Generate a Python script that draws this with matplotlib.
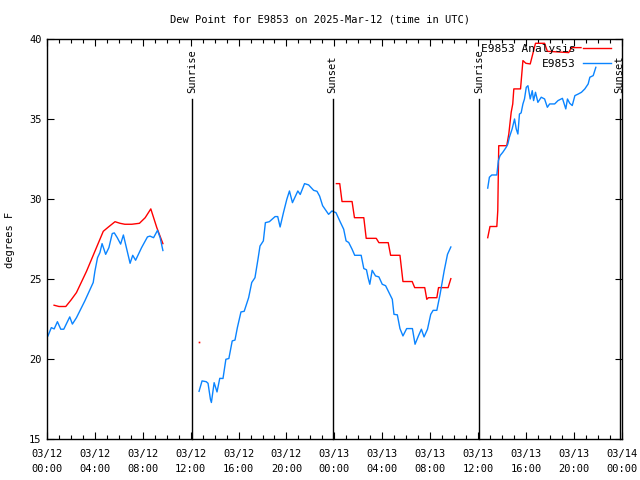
import numpy as np
import matplotlib
matplotlib.use("Agg")
import matplotlib.pyplot as plt
import matplotlib.transforms as mtransforms

title = "Dew Point for E9853 on 2025-Mar-12 (time in UTC)"
ylabel = "degrees F"

# hours since 2025-03-12 00:00 UTC
red_seg1_h = [0.59, 1.0, 1.57, 2.0, 2.46, 3.3, 4.14, 4.7, 5.1, 5.68, 6.1, 6.5, 7.08, 7.72, 8.2, 8.67, 9.17, 9.68]
red_seg1_v = [23.38, 23.3, 23.3, 23.7, 24.17, 25.5, 27.0, 28.0, 28.25, 28.6, 28.5, 28.44, 28.44, 28.5, 28.85, 29.4, 28.23, 27.23]

red_dot_h = [12.7]
red_dot_v = [21.1]

red_seg3_h = [24.17, 24.45, 24.64, 25.48, 25.68, 26.46, 26.66, 27.5, 27.72, 28.5, 28.7, 29.48, 29.73, 30.5,
              30.71, 31.55, 31.72, 31.86, 32.56, 32.7, 33.5, 33.73]
red_seg3_v = [30.98, 30.98, 29.86, 29.86, 28.85, 28.85, 27.56, 27.56, 27.29, 27.29, 26.5, 26.5, 24.86, 24.86,
              24.48, 24.48, 23.75, 23.85, 23.85, 24.48, 24.48, 25.04]

red_seg4_h = [36.81, 37.0, 37.57, 37.65, 37.73, 38.4, 38.57, 38.77, 38.9, 38.99, 39.55, 39.75, 40.0, 40.36,
              40.8, 41.56, 41.79, 43.57, 43.8, 44.6]
red_seg4_v = [27.6, 28.3, 28.3, 29.3, 33.35, 33.35, 34.08, 35.44, 35.96, 36.9, 36.9, 38.67, 38.5, 38.46,
              39.75, 39.75, 39.25, 39.17, 39.48, 39.48]

blue_seg1_h = [0.08, 0.36, 0.6, 0.87, 1.15, 1.4, 1.9, 2.12, 2.46, 3.16, 3.86, 4.0, 4.22, 4.42, 4.6, 4.9, 5.17,
               5.45, 5.62, 5.87, 6.15, 6.38, 6.66, 6.94, 7.16, 7.4, 7.9, 8.39, 8.6, 8.9, 9.23, 9.45, 9.68]
blue_seg1_v = [21.46, 21.98, 21.9, 22.35, 21.88, 21.88, 22.65, 22.2, 22.6, 23.65, 24.8, 25.5, 26.35, 26.67,
               27.23, 26.56, 26.98, 27.86, 27.9, 27.6, 27.2, 27.77, 26.88, 26.0, 26.5, 26.19, 26.98, 27.65,
               27.7, 27.6, 28.06, 27.6, 26.8]

blue_seg2_h = [12.7, 12.95, 13.3, 13.45, 13.65, 13.73, 13.96, 14.2, 14.43, 14.7, 14.94, 15.19, 15.47, 15.7,
               15.9, 16.2, 16.47, 16.84, 17.1, 17.37, 17.62, 17.79, 18.07, 18.24, 18.57, 19.05, 19.27, 19.47,
               19.75, 20.03, 20.25, 20.5, 20.95, 21.15, 21.51, 21.85, 22.27, 22.55, 22.77, 23.02, 23.52, 23.8,
               24.14, 24.45, 24.78, 24.98, 25.2, 25.48, 25.7, 26.24, 26.46, 26.68, 26.82, 26.96, 27.16, 27.44,
               27.72, 28.0, 28.28, 28.56, 28.84, 28.98, 29.26, 29.48, 29.73, 30.04, 30.52, 30.74, 31.02, 31.27,
               31.49, 31.78, 32.05, 32.25, 32.56, 32.83, 33.17, 33.45, 33.73]
blue_seg2_v = [18.0, 18.65, 18.6, 18.5, 17.5, 17.3, 18.54, 17.96, 18.81, 18.8, 20.0, 20.05, 21.15, 21.2,
               21.98, 22.96, 23.0, 23.85, 24.8, 25.1, 26.25, 27.08, 27.4, 28.54, 28.6, 28.92, 28.92, 28.27,
               29.17, 30.0, 30.52, 29.79, 30.52, 30.3, 30.98, 30.9, 30.56, 30.5, 30.2, 29.6, 29.06, 29.27,
               29.16, 28.65, 28.13, 27.4, 27.3, 26.88, 26.5, 26.5, 25.67, 25.6, 25.1, 24.69, 25.56, 25.21,
               25.15, 24.69, 24.6, 24.17, 23.75, 22.81, 22.78, 21.92, 21.46, 21.92, 21.92, 20.94, 21.46, 21.88,
               21.4, 21.88, 22.81, 23.06, 23.06, 24.06, 25.52, 26.56, 27.02]

blue_seg4_h = [36.81, 36.95, 37.15, 37.57, 37.7, 37.84, 38.07, 38.35, 38.49, 38.62, 38.85, 39.05, 39.19, 39.33,
               39.46, 39.6, 39.75, 39.88, 40.03, 40.17, 40.36, 40.53, 40.64, 40.8, 41.0, 41.28, 41.56, 41.79,
               41.98, 42.4, 42.68, 43.05, 43.2, 43.33, 43.47, 43.66, 43.87, 44.09, 44.37, 44.64, 44.92, 45.2,
               45.34, 45.62, 45.84]
blue_seg4_v = [30.7, 31.38, 31.52, 31.52, 32.42, 32.73, 32.94, 33.25, 33.46, 33.88, 34.4, 35.02, 34.4, 34.08,
               35.33, 35.4, 35.96, 36.27, 37.0, 37.1, 36.27, 36.79, 36.17, 36.69, 36.06, 36.38, 36.27, 35.75,
               35.96, 35.96, 36.17, 36.31, 35.96, 35.65, 36.27, 36.0, 35.86, 36.48, 36.58, 36.69, 36.9, 37.21,
               37.63, 37.73, 38.25]

sun_events_h = [12.12, 23.86, 36.12, 47.82]
sun_events_lbl = ["Sunrise", "Sunset", "Sunrise", "Sunset"]

xtick_h = [0, 4, 8, 12, 16, 20, 24, 28, 32, 36, 40, 44, 48]
xtick_lbl = ["03/12\n00:00", "03/12\n04:00", "03/12\n08:00", "03/12\n12:00", "03/12\n16:00", "03/12\n20:00",
             "03/13\n00:00", "03/13\n04:00", "03/13\n08:00", "03/13\n12:00", "03/13\n16:00", "03/13\n20:00",
             "03/14\n00:00"]
ytick_v = [15, 20, 25, 30, 35, 40]

def join(*segs):
    hs, vs = [], []
    for h, v in segs:
        if hs:
            hs.append(np.nan); vs.append(np.nan)
        hs.extend(h); vs.extend(v)
    return np.array(hs), np.array(vs)

red_h, red_v = join((red_seg1_h, red_seg1_v), (red_seg3_h, red_seg3_v), (red_seg4_h, red_seg4_v))
blue_h, blue_v = join((blue_seg1_h, blue_seg1_v), (blue_seg2_h, blue_seg2_v), (blue_seg4_h, blue_seg4_v))

FONT = "DejaVu Sans Mono"
FS = 7.5
plt.rcParams["font.family"] = FONT
plt.rcParams["font.size"] = FS

fig = plt.figure(figsize=(6.4, 4.8), dpi=100)
ax = fig.add_axes([47/640, 1 - 439.3/480, (621.7 - 47)/640, 400/480])

RED = "#ff0000"
BLUE = "#0a84ff"
ax.plot(red_h, red_v, color=RED, lw=1.0, label="E9853 Analysis")
ax.plot(red_dot_h, red_dot_v, color=RED, lw=0, marker="s", ms=1.2, mew=0)
ax.plot(blue_h, blue_v, color=BLUE, lw=1.0, label="E9853")

trans = mtransforms.blended_transform_factory(ax.transData, ax.transAxes)
for h, lbl in zip(sun_events_h, sun_events_lbl):
    ax.plot([h, h], [0, (439.3 - 99)/400], color="black", lw=1.0, transform=trans, clip_on=False)
    ax.text(h, (439.3 - 93)/400, lbl, rotation=90, ha="center", va="bottom", transform=trans,
            fontsize=FS, clip_on=False)

ax.set_xlim(0, 48)
ax.set_ylim(15, 40)
ax.set_xticks(xtick_h)
ax.set_xticklabels(xtick_lbl, fontsize=FS, linespacing=1.6)
ax.set_xticks(np.arange(0, 49, 1), minor=True)
ax.set_yticks(ytick_v)
ax.tick_params(axis="both", which="major", direction="in", length=5, width=0.8, top=True, right=True, pad=4)
ax.tick_params(axis="x", which="major", pad=7)
ax.tick_params(axis="x", which="minor", direction="in", length=3, width=0.8, top=True)
for s in ax.spines.values():
    s.set_linewidth(1.0)

fig.text(320/640, 1 - 19/480, title, ha="center", va="center", fontsize=FS)
fig.text(10/640, 0.5, ylabel, rotation=90, ha="center", va="center", fontsize=FS)

leg = ax.legend(loc="upper right", bbox_to_anchor=(0.985, 0.993), frameon=False, markerfirst=False,
                handlelength=2.5, borderaxespad=0.0, borderpad=0.2, labelspacing=0.45,
                handletextpad=0.7, fontsize=8)

fig.savefig("out.png", dpi=100)
